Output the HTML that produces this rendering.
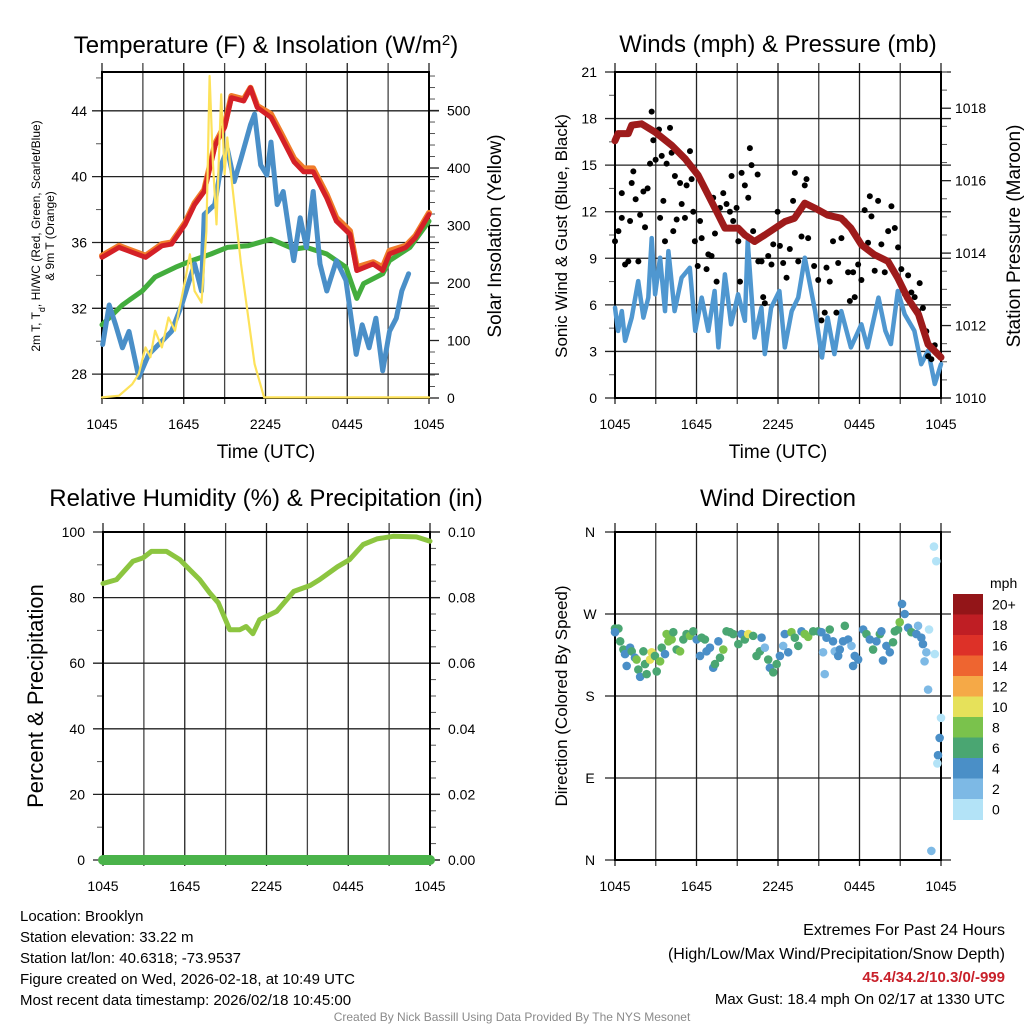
<!DOCTYPE html>
<html><head><meta charset="utf-8"><style>
html,body{margin:0;padding:0;background:#fff;}
svg{display:block;font-family:"Liberation Sans",sans-serif;}
</style></head><body>
<svg id="chart" width="1024" height="1024" viewBox="0 0 1024 1024" xmlns="http://www.w3.org/2000/svg">
<rect width="1024" height="1024" fill="#fff"/>
<g id="text-layer" fill="#000">
 <text x="266" y="53" font-size="24" text-anchor="middle">Temperature (F) &amp; Insolation (W/m<tspan baseline-shift="super" font-size="15">2</tspan>)</text>
 <text x="778" y="52" font-size="24" text-anchor="middle">Winds (mph) &amp; Pressure (mb)</text>
 <text x="266" y="506" font-size="24" text-anchor="middle">Relative Humidity (%) &amp; Precipitation (in)</text>
 <text x="778" y="506" font-size="24" text-anchor="middle">Wind Direction</text>
 <text x="266" y="458" font-size="19" text-anchor="middle">Time (UTC)</text>
 <text x="778" y="458" font-size="19" text-anchor="middle">Time (UTC)</text>
 <text transform="translate(40,236) rotate(-90)" font-size="12" text-anchor="middle">2m T, T<tspan baseline-shift="sub" font-size="9">d</tspan>, HI/WC (Red, Green, Scarlet/Blue)</text>
 <text transform="translate(54,236) rotate(-90)" font-size="12" text-anchor="middle">&amp; 9m T (Orange)</text>
 <text transform="translate(501,236) rotate(-90)" font-size="19" text-anchor="middle">Solar Insolation (Yellow)</text>
 <text transform="translate(567,236) rotate(-90)" font-size="17" text-anchor="middle">Sonic Wind &amp; Gust (Blue, Black)</text>
 <text transform="translate(1020,236) rotate(-90)" font-size="19" text-anchor="middle">Station Pressure (Maroon)</text>
 <text transform="translate(43,696) rotate(-90)" font-size="22" text-anchor="middle">Percent &amp; Precipitation</text>
 <text transform="translate(567,696) rotate(-90)" font-size="17" text-anchor="middle">Direction (Colored By Speed)</text>
 <g font-size="15">
  <text x="20" y="921">Location: Brooklyn</text>
  <text x="20" y="942">Station elevation: 33.22 m</text>
  <text x="20" y="963">Station lat/lon: 40.6318; -73.9537</text>
  <text x="20" y="984">Figure created on Wed, 2026-02-18, at 10:49 UTC</text>
  <text x="20" y="1005">Most recent data timestamp: 2026/02/18 10:45:00</text>
 </g>
 <g text-anchor="end">
  <text x="1005" y="935" font-size="16">Extremes For Past 24 Hours</text>
  <text x="1005" y="959" font-size="16">(High/Low/Max Wind/Precipitation/Snow Depth)</text>
  <text x="1005" y="982" font-size="15" font-weight="bold" fill="#c8202a">45.4/34.2/10.3/0/-999</text>
  <text x="1005" y="1004" font-size="15">Max Gust: 18.4 mph On 02/17 at 1330 UTC</text>
 </g>
 <text x="512" y="1021" font-size="12" fill="#8a8a8a" text-anchor="middle">Created By Nick Bassill Using Data Provided By The NYS Mesonet</text>
</g>
</svg>
<script>
// ---- data (hours since 1045 UTC) ----
const xTickLabels = ["1045","1645","2245","0445","1045"];
const tempTicks = [28,32,36,40,44];
const solarTicks = [0,100,200,300,400,500];
const windTicks = [0,3,6,9,12,15,18,21];
const presTicks = [1010,1012,1014,1016,1018];
const rhTicks = [0,20,40,60,80,100];
const precipTicks = ["0.00","0.02","0.04","0.06","0.08","0.10"];
const dirTicks = ["N","E","S","W","N"];
const speedBinLabels = ["0","2","4","6","8","10","12","14","16","18","20+"];
const speedBinColors = ["#b3e3f7","#7db9e5","#4a8fc7","#4aa672","#7ac24c","#e6e15a","#f5a947","#ee6530","#dd3128","#bf1e24","#931518"];

const redHours = [0,1.25,3.2,4.4,5.1,6.1,6.8,7.5,8.3,9.0,9.5,10.4,10.9,11.4,12.4,13.1,14.1,14.8,15.5,16.5,17.2,18.2,18.7,19.9,20.6,21.1,22.3,23.0,24];
const redTemp = [35.1,35.7,35.1,35.8,35.9,37.1,38.3,39.1,41.9,43.0,44.8,44.6,45.4,44.2,43.6,42.5,40.9,40.3,40.3,38.7,37.3,36.5,34.3,34.7,34.3,35.3,35.7,36.3,37.7];
const orangeTemp = [35.2,35.8,35.2,35.9,36.0,37.2,38.4,39.2,42.0,43.1,44.9,44.7,45.4,44.3,43.8,42.7,41.1,40.5,40.5,38.9,37.5,36.7,34.5,34.8,34.5,35.5,35.8,36.4,37.8];
const greenHours = [0,0.5,1.5,2.95,3.9,5.4,6.6,8.0,9.2,10.7,12.4,14.1,15.0,16.5,17.9,18.7,19.2,20.6,21.1,22.6,24];
const greenTemp = [31.0,31.4,32.2,33.05,33.9,34.5,34.9,35.3,35.7,35.8,36.2,35.6,35.7,35.3,34.5,32.6,33.5,34.1,34.9,35.7,37.3];
const blueHours = [0.05,0.53,1.0,1.5,1.98,2.7,3.43,4.4,5.1,5.85,6.8,7.3,7.5,8.27,8.75,9.2,9.7,10.2,10.9,11.2,11.65,12.1,12.4,12.86,13.3,13.8,14.07,14.55,15.0,15.5,16.0,16.5,17.2,17.9,18.66,19.1,19.6,20.1,20.6,21.1,21.6,22.0,22.5];
const blueTemp = [29.8,32.2,31.0,29.6,30.6,27.8,29.2,30.0,30.6,32.2,34.7,33.05,37.7,38.3,40.7,41.7,39.7,41.1,43.15,43.8,40.7,40.1,42.1,38.3,39.1,36.3,34.9,37.5,35.7,39.1,34.7,33.05,34.9,33.7,29.2,31.0,29.6,31.4,28.2,30.6,31.4,33.05,34.1];
const solarHours = [0,1.25,2.22,2.7,3.19,3.55,3.9,4.4,4.88,5.36,6.1,6.45,6.8,7.3,7.66,7.9,8.15,8.4,8.75,9.0,9.2,9.5,10.2,11.2,11.9,24];
const solarVals = [1,4,24,42,88,71,117,88,140,117,204,250,186,166,290,560,406,302,528,389,453,383,233,59,1,1];

const presHours = [0,0.23,0.98,1.23,1.96,2.95,4.17,5.15,6.12,6.87,7.61,8.09,9.06,9.56,10.27,11.03,11.79,12.5,13.21,13.97,14.73,15.65,16.66,17.37,18.14,19.09,20.1,20.82,21.53,22.34,23.05,24];
const presVals = [1017.1,1017.3,1017.3,1017.53,1017.57,1017.34,1016.98,1016.61,1016.15,1015.6,1015.05,1014.69,1014.69,1014.5,1014.32,1014.5,1014.69,1014.87,1014.96,1015.38,1015.24,1015.05,1014.96,1014.69,1014.23,1013.96,1013.77,1013.31,1012.77,1012.31,1011.48,1011.12];
const windHours = [0,0.23,0.5,0.74,1.23,1.71,2.09,2.45,2.7,2.95,3.32,3.68,3.93,4.39,4.9,5.51,5.91,6.38,6.87,7.33,7.61,8.09,8.55,9.06,9.56,9.77,10.27,10.78,11.03,11.49,12.1,12.5,13.01,13.49,13.97,14.73,15.24,15.65,16.15,16.66,17.37,18.14,18.59,19.4,19.91,20.31,20.82,21.33,22.04,22.54,23.05,23.54,24];
const windVals = [5.82,4.32,5.6,3.68,5.18,7.53,5.18,6.47,10.3,6.68,9.04,5.6,9.46,5.6,7.75,8.39,4.32,6.47,4.32,6.89,3.26,7.96,4.75,6.68,4.97,10.1,3.9,5.82,2.83,5.82,6.89,3.26,5.6,6.47,9.04,5.6,2.61,5.18,2.83,5.6,3.26,4.75,3.26,6.47,4.32,3.47,6.89,5.39,4.32,2.18,3.04,0.9,2.18];
const gustHours = [0,0.25,0.5,0.5,0.74,0.98,1.11,1.23,1.35,1.52,1.72,1.85,2.09,2.21,2.4,2.58,2.7,2.82,2.99,3.24,3.32,3.44,3.56,3.68,3.8,4.05,4.17,4.29,4.41,4.54,4.79,4.91,5.15,5.27,5.52,5.64,5.76,5.88,6.09,6.26,6.38,6.74,6.87,7.11,7.23,7.36,7.48,7.73,7.97,8.21,8.46,8.58,8.7,8.95,9.08,9.2,9.32,9.56,9.81,9.93,10.05,10.17,10.5,10.55,10.79,10.91,11.03,11.28,11.52,11.65,11.97,12.14,12.38,12.63,12.87,13.11,13.24,13.49,13.73,13.97,14.1,14.22,14.66,14.96,15.2,15.44,15.57,15.81,16.05,16.3,16.43,16.67,16.92,17.16,17.29,17.53,17.65,17.9,18.14,18.38,18.63,18.76,18.88,19.12,19.37,19.61,19.86,20.11,20.35,20.6,20.84,21.08,21.33,21.58,21.82,22.06,22.31,22.43,22.67,22.92,23.05,23.29,23.54,23.9];
const gustVals = [10.1,10.75,11.6,13.2,8.6,8.8,11.4,13.85,14.6,12.8,8.8,11.8,13.3,11.0,13.5,15.1,18.45,16.6,15.35,17.3,11.6,15.6,12.7,10.1,15.1,17.4,15.8,10.75,14.3,11.5,13.85,12.5,11.6,13.7,15.9,14.1,12.0,10.1,8.5,11.4,10.3,8.3,9.25,9.15,12.9,10.6,7.5,12.25,13.2,12.5,12.0,14.3,11.4,12.25,10.1,7.5,14.5,13.7,12.9,16.1,15.0,10.75,14.4,8.8,8.8,6.5,6.1,9.15,8.6,9.9,12.0,9.8,8.7,7.75,9.6,12.7,14.5,8.8,10.4,13.7,14.1,10.3,8.5,7.6,5.0,5.5,8.4,7.5,10.1,5.5,8.7,10.3,11.4,8.1,6.25,8.1,6.5,8.6,7.6,12.1,10.0,13.0,11.7,8.2,12.7,9.9,8.1,10.75,12.35,10.95,9.7,8.3,6.7,7.9,6.8,6.5,5.6,7.4,5.8,4.3,2.7,2.5,3.4,2.7];

const rhHours = [0,1.0,2.2,2.94,3.55,4.66,5.64,6.37,7.1,7.84,8.46,9.3,10.05,10.5,11.0,11.5,12.75,14.0,15.2,15.9,17.2,18.1,19.1,20.1,21.3,23.0,24];
const rhVals = [84.3,85.5,91.1,92.1,94.1,94.1,91.6,88.5,85.5,81.4,78.4,70.2,70.2,71.2,69.0,73.3,75.8,81.9,83.7,85.5,89.4,91.6,96.2,97.9,98.7,98.5,97.2];
const precipHours = [0,24];
const precipVals = [0,0];

const dirHours = [0,0.25,0,0.38,0.62,0.74,1.11,0.86,1.23,1.47,1.59,1.72,1.85,2.09,2.21,2.33,2.58,2.7,2.94,3.07,3.32,3.44,3.68,3.8,3.93,4.17,4.29,4.54,4.79,5.03,5.27,5.52,5.76,6.01,6.26,6.38,6.62,6.74,6.99,7.23,7.36,7.61,7.73,7.97,8.21,8.46,8.7,9.08,9.32,9.56,9.81,10.17,10.42,10.67,10.79,11.03,11.28,11.4,11.65,11.9,12.14,12.38,12.5,12.75,12.99,13.24,13.49,13.73,13.97,14.22,14.59,14.96,15.2,15.32,15.44,15.57,15.81,16.05,16.18,16.43,16.55,16.79,16.92,17.16,17.41,17.53,17.65,17.9,18.27,18.51,18.76,19.0,19.25,19.5,19.61,19.73,19.98,20.23,20.47,20.6,20.84,20.96,21.13,21.33,21.58,21.82,22.19,22.31,22.55,22.67,22.92,23.12,23.54,22.79,23.05,23.48,23.65,24,23.9,23.78,23.73,23.29];
const dirVals = [254,254,250,240,231,226,233,213,229,222,220,209,201,229,215,204,220,228,224,207,218,233,226,248,240,242,250,231,229,242,248,246,251,242,224,244,242,229,233,211,215,240,222,231,251,250,248,237,248,242,248,246,224,229,244,233,220,211,206,215,224,235,248,228,250,244,235,251,248,245,251,251,250,228,204,244,253,240,229,224,231,240,257,242,235,213,224,220,253,248,242,231,240,248,251,219,235,228,239,251,253,261,281,270,255,250,248,257,244,237,228,253,226,218,187,344,328,156,134,115,106,10];
const dirSpeeds = [6,6,4,6,6,4,4,4,6,4,8,6,4,6,6,6,10,10,6,6,8,6,4,8,8,8,6,6,8,6,6,8,6,4,4,6,6,4,4,4,6,4,6,8,6,6,6,6,4,6,10,6,6,6,4,2,6,4,6,6,4,2,4,4,8,6,6,4,8,8,6,6,4,2,2,4,6,4,2,4,4,4,6,4,2,4,4,4,4,6,4,6,4,6,4,4,4,4,6,6,6,8,4,4,4,6,4,2,4,4,2,0,0,2,2,0,0,0,4,4,0,2];

// ---- helpers ----
const svg = document.getElementById('chart');
const NS = 'http://www.w3.org/2000/svg';
function mk(tag, parent) { const e = document.createElementNS(NS, tag); parent.appendChild(e); return e; }
function attrs(e, a) { for (const k in a) e.setAttribute(k, a[k]); return e; }

const panels = {
  temp:  {x0:102, x1:429, y0:72,  y1:398},
  wind:  {x0:615, x1:941, y0:72,  y1:398},
  rh:    {x0:103, x1:430, y0:532, y1:860},
  dir:   {x0:615, x1:941, y0:532, y1:860}
};
function xScale(p, h) { return p.x0 + (Math.min(Math.max(h,0),24.2)/24)*(p.x1-p.x0); }
function yScale(p, v, lo, hi) { return p.y1 - (v-lo)/(hi-lo)*(p.y1-p.y0); }

const TEMP=[26.55,46.36], SOLAR=[0,567], WIND=[0,21], PRES=[1010,1019], RH=[0,100], DIR=[0,360];

function frame(p, name, leftMajor, rightMajor, leftMinor, rightMinor) {
  const g = mk('g', svg);
  
  
  for (let i=0;i<=8;i++) {
    const x = p.x0 + i*(p.x1-p.x0)/8;
    const l = attrs(mk('line', g), {x1:x, x2:x, y1:p.y0-9, y2:p.y1+6, stroke: (i%2?'#444':'#222'), 'stroke-width':1.3});
    
    
  }
  leftMajor.forEach(y => {
    const l = attrs(mk('line', g), {x1:p.x0-10, x2:p.x1+10, y1:y, y2:y, stroke:'#222', 'stroke-width':1.3});
    
    
  });
  rightMajor.forEach(y => {
    const l = attrs(mk('line', g), {x1:p.x1, x2:p.x1+10, y1:y, y2:y, stroke:'#222', 'stroke-width':1.3});
    
    
  });
  leftMinor.forEach(y => {
    const l = attrs(mk('line', g), {x1:p.x0-6, x2:p.x0, y1:y, y2:y, stroke:'#555', 'stroke-width':1});
    
    
  });
  rightMinor.forEach(y => {
    const l = attrs(mk('line', g), {x1:p.x1, x2:p.x1+6, y1:y, y2:y, stroke:'#555', 'stroke-width':1});
    
    
  });
  const r = attrs(mk('rect', g), {x:p.x0, y:p.y0, width:p.x1-p.x0, height:p.y1-p.y0, fill:'none', stroke:'#000', 'stroke-width':2});
  
  
  xTickLabels.forEach((t,i) => {
    const tx = attrs(mk('text', g), {x: p.x0 + i*(p.x1-p.x0)/4, y: p.y1+31, 'font-size':14, 'text-anchor':'middle'});
    tx.textContent = t;
    
    
  });
  return g;
}
function tickLabel(g, x, y, txt, anchor) {
  const t = attrs(mk('text', g), {x:x, y:y+5, 'font-size':14, 'text-anchor':anchor});
  t.textContent = txt;
  
  
}
function polyline(p, g, hours, vals, lo, hi, color, w, name) {
  const pts = hours.map((h,i) => xScale(p,h).toFixed(1) + ',' + yScale(p, vals[i], lo, hi).toFixed(1)).join(' ');
  const pl = attrs(mk('polyline', g), {points:pts, fill:'none', stroke:color, 'stroke-width':w, 'stroke-linejoin':'round', 'stroke-linecap':'round'});
  
  
  return pl;
}
function range(a,b,s){const r=[];for(let v=a;v<=b+1e-9;v+=s)r.push(v);return r;}

// ---- Panel 1: temperature ----
(function(){
  const p = panels.temp;
  const g = frame(p, 'temp',
    tempTicks.map(v=>yScale(p,v,...TEMP)),
    solarTicks.map(v=>yScale(p,v,...SOLAR)),
    range(26,46,2).filter(v=>v%4!==0 && v>TEMP[0]).map(v=>yScale(p,v,...TEMP)),
    range(20,560,20).filter(v=>v%100!==0).map(v=>yScale(p,v,...SOLAR)));
  tempTicks.forEach(v => tickLabel(g, p.x0-15, yScale(p,v,...TEMP), String(v), 'end'));
  solarTicks.forEach(v => tickLabel(g, p.x1+18, yScale(p,v,...SOLAR), String(v), 'start'));
  const s = mk('g', svg);
  
  
  polyline(p, s, redHours, orangeTemp, ...TEMP, '#f07c2a', 6, 'orange-9m-temp-line');
  polyline(p, s, greenHours, greenTemp, ...TEMP, '#43ad3d', 5, 'green-dewpoint-line');
  polyline(p, s, redHours, redTemp, ...TEMP, '#d42027', 5, 'red-2m-temp-line');
  polyline(p, s, blueHours, blueTemp, ...TEMP, '#4a8fc8', 5, 'blue-windchill-line');
  polyline(p, s, solarHours, solarVals, ...SOLAR, '#fde25a', 2.2, 'yellow-solar-line');
})();

// ---- Panel 2: wind & pressure ----
(function(){
  const p = panels.wind;
  const g = frame(p, 'wind',
    windTicks.map(v=>yScale(p,v,...WIND)),
    presTicks.map(v=>yScale(p,v,...PRES)),
    range(1.5,19.5,3).map(v=>yScale(p,v,...WIND)),
    range(1010.5,1019,0.5).filter(v=>v%2!==0).map(v=>yScale(p,v,...PRES)));
  windTicks.forEach(v => tickLabel(g, p.x0-18, yScale(p,v,...WIND), String(v), 'end'));
  presTicks.forEach(v => tickLabel(g, p.x1+14, yScale(p,v,...PRES), String(v), 'start'));
  const s = mk('g', svg);
  
  
  polyline(p, s, windHours, windVals, ...WIND, '#4f97d0', 4.5, 'sonic-wind-line');
  gustHours.forEach((h,i) => {
    const c = attrs(mk('circle', s), {cx:xScale(p,h), cy:yScale(p,gustVals[i],...WIND), r:3, fill:'#000'});
    
    
  });
  polyline(p, s, presHours, presVals, ...PRES, '#9e1b1b', 7, 'pressure-line');
})();

// ---- Panel 3: RH & precip ----
(function(){
  const p = panels.rh;
  const g = frame(p, 'rh',
    rhTicks.map(v=>yScale(p,v,...RH)),
    rhTicks.map(v=>yScale(p,v,...RH)),
    range(10,90,20).map(v=>yScale(p,v,...RH)),
    range(5,95,5).filter(v=>v%20!==0).map(v=>yScale(p,v,...RH)));
  rhTicks.forEach(v => tickLabel(g, p.x0-18, yScale(p,v,...RH), String(v), 'end'));
  precipTicks.forEach((t,i) => tickLabel(g, p.x1+18, yScale(p,rhTicks[i],...RH), t, 'start'));
  const s = mk('g', svg);
  
  
  polyline(p, s, rhHours, rhVals, ...RH, '#8cc540', 5, 'relative-humidity-line');
  polyline(p, s, precipHours, precipVals.map(v=>v*1000), ...RH, '#4ab34a', 10, 'precipitation-line');
})();

// ---- Panel 4: wind direction ----
(function(){
  const p = panels.dir;
  const g = frame(p, 'dir',
    [0,90,180,270,360].map(v=>yScale(p,v,...DIR)), [], [], []);
  dirTicks.forEach((t,i) => tickLabel(g, p.x0-25, yScale(p,i*90,...DIR), t, 'middle'));
  const s = mk('g', svg);
  
  
  dirHours.forEach((h,i) => {
    const bin = Math.min(Math.floor(dirSpeeds[i]/2), 10);
    const c = attrs(mk('circle', s), {cx:xScale(p,h), cy:yScale(p,dirVals[i],...DIR), r:4.3, fill:speedBinColors[bin]});
    
    
  });
  // colorbar
  const cb = mk('g', svg);
  
  
  const top = 594, bh = 20.5;
  const ttl = attrs(mk('text', cb), {x:990, y:588, 'font-size':14});
  ttl.textContent = 'mph';
  
  
  speedBinColors.forEach((c,i) => {
    const idx = speedBinColors.length-1-i;
    const r = attrs(mk('rect', cb), {x:953, y:top+i*bh, width:30, height:bh+0.5, fill:speedBinColors[idx]});
    
    
    const t = attrs(mk('text', cb), {x:992, y:top+i*bh+bh/2+5, 'font-size':14});
    t.textContent = speedBinLabels[idx];
    
    
  });
})();
svg.appendChild(document.getElementById('text-layer'));
</script>
</body></html>
